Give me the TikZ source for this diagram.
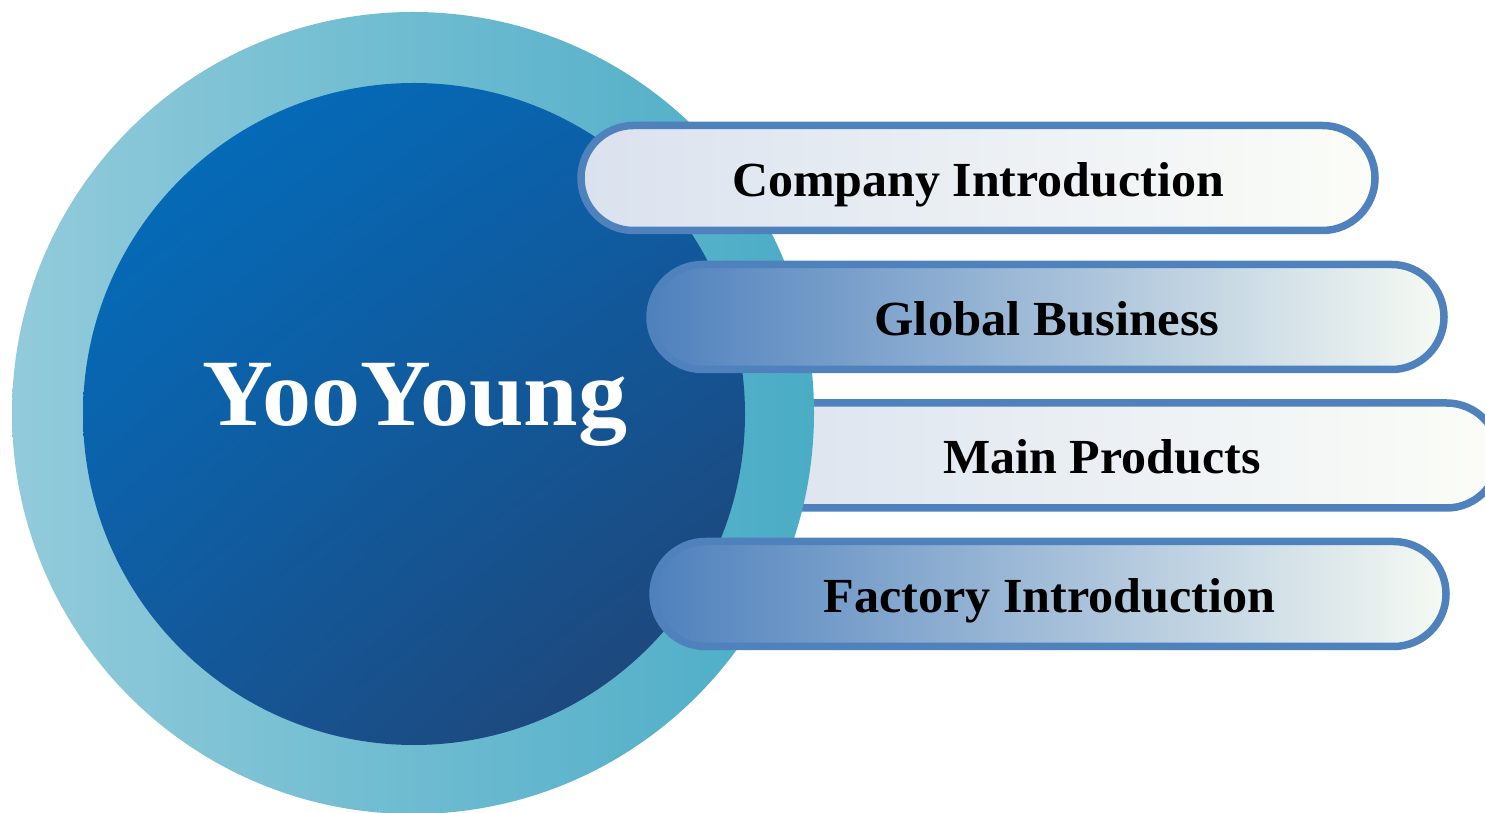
\documentclass[tikz,border=0pt]{standalone}
\usepackage{fontspec}
\setmainfont{Liberation Serif}
\usetikzlibrary{shapes.misc,shadings}
\definecolor{outerL}{HTML}{92CBDB}
\definecolor{outerR}{HTML}{4AACC6}
\definecolor{innUL}{HTML}{0070C0}
\definecolor{innUR}{HTML}{0D5EA6}
\definecolor{innLL}{HTML}{13599C}
\definecolor{innLR}{HTML}{22416F}
\definecolor{barLL}{HTML}{DAE2EF}
\definecolor{barLR}{HTML}{FCFDF8}
\definecolor{barDL}{HTML}{4F81BD}
\definecolor{barDR}{HTML}{F6FAF3}
\definecolor{bord}{HTML}{4F81BD}
\newcommand{\fitw}[2]{\resizebox{#1}{\height}{#2}}
\tikzset{
  pill/.style={rounded rectangle, draw=bord, line width=7.5pt, minimum width=#1, minimum height=105pt,
    inner sep=0pt, text height=37pt, text depth=0pt, font=\bfseries\fontsize{49pt}{49pt}\selectfont},
  lightpill/.style={pill=#1, left color=barLL, right color=barLR},
  darkpill/.style={pill=#1, left color=barDL, right color=barDR},
}
\begin{document}
\begin{tikzpicture}[x=1pt,y=1pt]
\path[use as bounding box, clip] (0,0) rectangle (1485,813);
% bar behind the outer ring
\node[lightpill=794pt] (b3) at (1102,357.5) {\fitw{317pt}{Main Products}};
% circles
\node[circle, minimum size=802pt, inner sep=0pt, left color=outerL, right color=outerR] (outer) at (413,400) {};
\node[circle, minimum size=662pt, inner sep=0pt, upper left=innUL, upper right=innUR, lower left=innLL, lower right=innLR] (inner) at (414,399) {};
\node[anchor=base, text=white, font=\bfseries\fontsize{95pt}{95pt}\selectfont] (title) at (415,387) {\fitw{425pt}{YooYoung}};
% bars in front
\node[lightpill=794pt] (b1) at (978,635) {\fitw{492pt}{Company Introduction}};
\node[darkpill=794pt] (b2) at (1047,496) {\fitw{345pt}{Global Business}};
\node[darkpill=793pt] (b4) at (1049.5,219) {\fitw{452pt}{Factory Introduction}};
\end{tikzpicture}
\end{document}
